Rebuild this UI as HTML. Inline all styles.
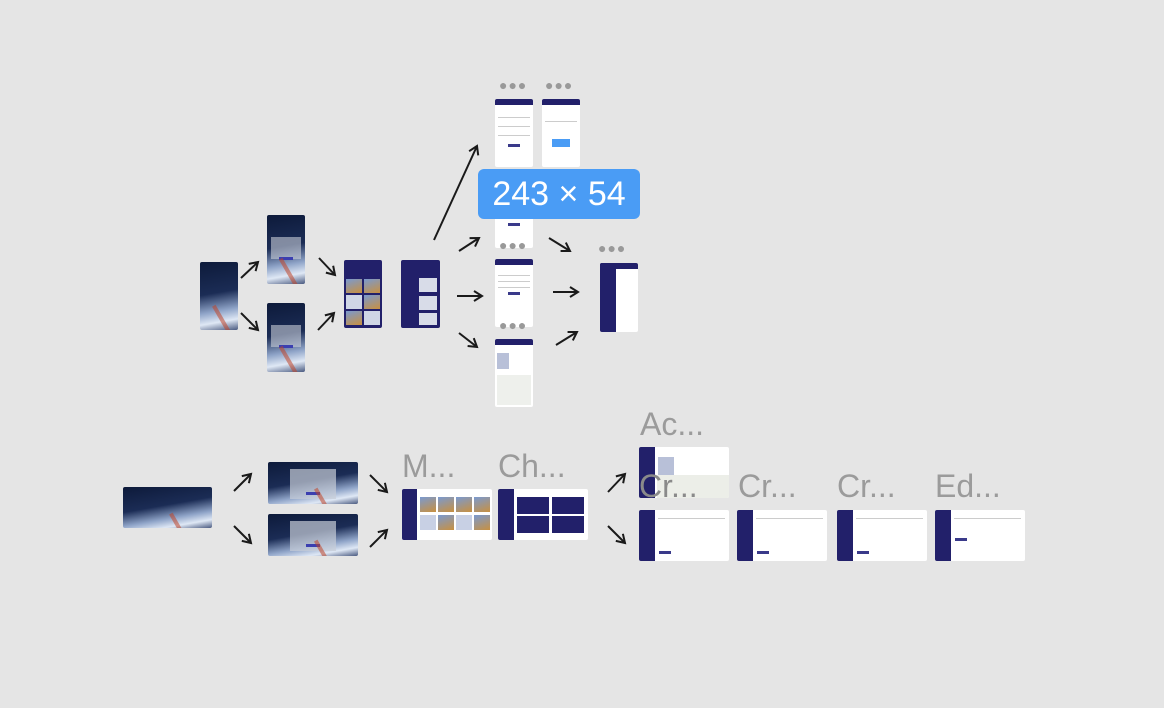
<!DOCTYPE html>
<html><head><meta charset="utf-8"><style>
body{margin:0;width:1164px;height:708px;background:#e5e5e5;position:relative;overflow:hidden;font-family:"Liberation Sans",sans-serif}
.f{position:absolute;overflow:hidden;border-radius:2px}
.dark{background:linear-gradient(170deg,#0d1a3a 0%,#1b2c55 45%,#8fa4c8 70%,#dfe8f5 85%,#4a5a80 100%)}
.dark:after{content:"";position:absolute;left:58%;top:60%;width:4px;height:60%;background:#c0452a;transform:rotate(-30deg);opacity:.55}
.navy{background:#22206a}
.w{background:#fff}
.bar{position:absolute;left:0;right:0;top:0;height:6px;background:#22206a}
.btn{position:absolute;height:3px;background:#3a3a8a}
.ln{position:absolute;height:1px;background:#ccc}
.dots{position:absolute;font-size:14px;color:#999;letter-spacing:1px;line-height:10px}
.lbl{position:absolute;font-size:32px;color:#9b9b9b;line-height:32px}
.side{position:absolute;left:0;top:0;bottom:0;width:15px;background:#22206a}
.pic{position:absolute;background:linear-gradient(160deg,#7a9ad0,#c89040);}
</style></head><body>

<div class="f dark" style="left:200px;top:262px;width:38px;height:68px"></div>
<div class="f dark" style="left:267px;top:215px;width:38px;height:69px"><div style="position:absolute;left:4px;top:22px;width:30px;height:22px;background:rgba(200,205,215,.6)"></div><div class="btn" style="left:12px;top:42px;width:14px;background:#3b3fb0"></div></div>
<div class="f dark" style="left:267px;top:303px;width:38px;height:69px"><div style="position:absolute;left:4px;top:22px;width:30px;height:22px;background:rgba(200,205,215,.6)"></div><div class="btn" style="left:12px;top:42px;width:14px;background:#3b3fb0"></div></div>
<div class="f navy" style="left:344px;top:260px;width:38px;height:68px">
<div class="pic" style="left:2px;top:19px;width:16px;height:14px"></div><div class="pic" style="left:20px;top:19px;width:16px;height:14px"></div>
<div class="pic" style="left:2px;top:35px;width:16px;height:14px;background:#cfd6e6"></div><div class="pic" style="left:20px;top:35px;width:16px;height:14px"></div>
<div class="pic" style="left:2px;top:51px;width:16px;height:14px"></div><div class="pic" style="left:20px;top:51px;width:16px;height:14px;background:#cfd6e6"></div></div>
<div class="f navy" style="left:401px;top:260px;width:39px;height:68px">
<div class="pic" style="left:18px;top:18px;width:18px;height:14px;background:#d8dce8"></div>
<div class="pic" style="left:18px;top:36px;width:18px;height:14px;background:#d8dce8"></div>
<div class="pic" style="left:18px;top:53px;width:18px;height:12px;background:#d8dce8"></div></div>

<div class="dots" style="left:499px;top:80px">●●●</div>
<div class="dots" style="left:545px;top:80px">●●●</div>
<div class="f w" style="left:495px;top:99px;width:38px;height:68px"><div class="bar"></div><div class="ln" style="left:3px;right:3px;top:18px"></div><div class="ln" style="left:3px;right:3px;top:27px"></div><div class="ln" style="left:3px;right:3px;top:36px"></div><div class="btn" style="left:13px;top:45px;width:12px"></div></div>
<div class="f w" style="left:542px;top:99px;width:38px;height:68px"><div class="bar"></div><div class="ln" style="left:3px;right:3px;top:22px"></div><div style="position:absolute;left:10px;top:40px;width:18px;height:8px;background:#4a9cf5"></div></div>
<div class="f w" style="left:495px;top:190px;width:38px;height:58px"><div class="btn" style="left:13px;top:33px;width:12px"></div></div>
<div class="dots" style="left:499px;top:240px">●●●</div>
<div class="f w" style="left:495px;top:259px;width:38px;height:68px"><div class="bar"></div><div class="ln" style="left:3px;right:3px;top:16px"></div><div class="ln" style="left:3px;right:3px;top:22px"></div><div class="ln" style="left:3px;right:3px;top:28px"></div><div class="btn" style="left:13px;top:33px;width:12px"></div></div>
<div class="dots" style="left:499px;top:320px">●●●</div>
<div class="f w" style="left:495px;top:339px;width:38px;height:68px"><div class="bar"></div><div style="position:absolute;left:2px;top:14px;width:12px;height:16px;background:#b8c0d8"></div><div style="position:absolute;left:2px;top:36px;width:34px;height:30px;background:#eef0ec"></div></div>
<div class="dots" style="left:598px;top:243px">●●●</div>
<div class="f w" style="left:600px;top:263px;width:38px;height:69px"><div class="bar"></div><div class="side" style="width:16px"></div></div>

<div style="position:absolute;left:478px;top:169px;width:162px;height:50px;background:#4a9cf5;border-radius:6px;color:#fff;font-size:34px;line-height:50px;text-align:center">243 × 54</div>

<div class="f dark" style="left:123px;top:487px;width:89px;height:41px"></div>
<div class="f dark" style="left:268px;top:462px;width:90px;height:42px"><div style="position:absolute;left:22px;top:7px;width:46px;height:30px;background:rgba(200,205,215,.7)"></div><div class="btn" style="left:38px;top:30px;width:14px;height:3px;background:#3b3fb0"></div></div>
<div class="f dark" style="left:268px;top:514px;width:90px;height:42px"><div style="position:absolute;left:22px;top:7px;width:46px;height:30px;background:rgba(200,205,215,.7)"></div><div class="btn" style="left:38px;top:30px;width:14px;height:3px;background:#3b3fb0"></div></div>

<div class="lbl" style="left:402px;top:450px">M...</div>
<div class="f w" style="left:402px;top:489px;width:90px;height:51px"><div class="side"></div>
<div class="pic" style="left:18px;top:8px;width:16px;height:15px"></div><div class="pic" style="left:36px;top:8px;width:16px;height:15px"></div><div class="pic" style="left:54px;top:8px;width:16px;height:15px"></div><div class="pic" style="left:72px;top:8px;width:16px;height:15px"></div>
<div class="pic" style="left:18px;top:26px;width:16px;height:15px;background:#c8d0e4"></div><div class="pic" style="left:36px;top:26px;width:16px;height:15px"></div><div class="pic" style="left:54px;top:26px;width:16px;height:15px;background:#c8d0e4"></div><div class="pic" style="left:72px;top:26px;width:16px;height:15px"></div></div>
<div class="lbl" style="left:498px;top:450px">Ch...</div>
<div class="f w" style="left:498px;top:489px;width:90px;height:51px"><div class="side" style="width:16px"></div>
<div class="navy" style="position:absolute;left:19px;top:8px;width:32px;height:17px"></div><div class="navy" style="position:absolute;left:54px;top:8px;width:32px;height:17px"></div>
<div class="navy" style="position:absolute;left:19px;top:27px;width:32px;height:17px"></div><div class="navy" style="position:absolute;left:54px;top:27px;width:32px;height:17px"></div></div>

<div class="lbl" style="left:640px;top:408px">Ac...</div>
<div class="f w" style="left:639px;top:447px;width:90px;height:51px"><div class="side" style="width:16px"></div><div style="position:absolute;left:19px;top:10px;width:16px;height:18px;background:#b8c0d8"></div><div style="position:absolute;left:18px;top:28px;width:72px;height:23px;background:#eceee8"></div></div>
<div class="f w" style="left:639px;top:510px;width:90px;height:51px"><div class="side" style="width:16px"></div><div class="ln" style="left:19px;right:4px;top:8px"></div><div class="btn" style="left:20px;top:41px;width:12px"></div></div>
<div class="lbl" style="left:639px;top:470px;color:#8a8a8a">Cr...</div>
<div class="lbl" style="left:738px;top:470px">Cr...</div>
<div class="f w" style="left:737px;top:510px;width:90px;height:51px"><div class="side" style="width:16px"></div><div class="ln" style="left:19px;right:4px;top:8px"></div><div class="btn" style="left:20px;top:41px;width:12px"></div></div>
<div class="lbl" style="left:837px;top:470px">Cr...</div>
<div class="f w" style="left:837px;top:510px;width:90px;height:51px"><div class="side" style="width:16px"></div><div class="ln" style="left:19px;right:4px;top:8px"></div><div class="btn" style="left:20px;top:41px;width:12px"></div></div>
<div class="lbl" style="left:935px;top:470px">Ed...</div>
<div class="f w" style="left:935px;top:510px;width:90px;height:51px"><div class="side" style="width:16px"></div><div class="ln" style="left:19px;right:4px;top:8px"></div><div class="btn" style="left:20px;top:28px;width:12px"></div></div>

<svg width="1164" height="708" style="position:absolute;left:0;top:0" fill="none" stroke="#1a1a1a" stroke-width="2">
<defs><marker id="a" markerWidth="12" markerHeight="12" refX="9" refY="6" orient="auto" markerUnits="userSpaceOnUse"><path d="M1,1 L9,6 L1,11" stroke="#1a1a1a" stroke-width="2" fill="none"/></marker></defs>
<g marker-end="url(#a)">
<line x1="241" y1="278" x2="258" y2="262"/>
<line x1="241" y1="313" x2="258" y2="330"/>
<line x1="319" y1="258" x2="335" y2="275"/>
<line x1="318" y1="330" x2="334" y2="313"/>
<line x1="434" y1="240" x2="477" y2="146"/>
<line x1="459" y1="251" x2="479" y2="238"/>
<line x1="457" y1="296" x2="482" y2="296"/>
<line x1="459" y1="333" x2="477" y2="347"/>
<line x1="549" y1="238" x2="570" y2="251"/>
<line x1="553" y1="292" x2="578" y2="292"/>
<line x1="556" y1="345" x2="577" y2="332"/>
<line x1="234" y1="491" x2="251" y2="474"/>
<line x1="234" y1="526" x2="251" y2="543"/>
<line x1="370" y1="475" x2="387" y2="492"/>
<line x1="370" y1="547" x2="387" y2="530"/>
<line x1="608" y1="492" x2="625" y2="474"/>
<line x1="608" y1="526" x2="625" y2="543"/>
</g></svg>
</body></html>
